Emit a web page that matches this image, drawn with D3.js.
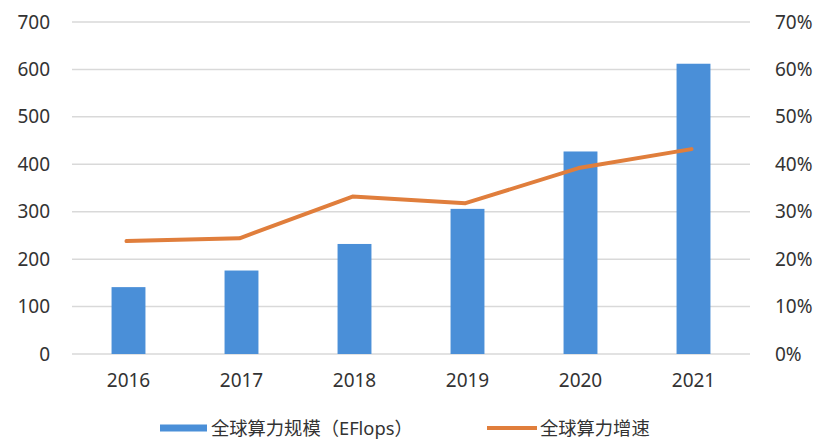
<!DOCTYPE html>
<html>
<head>
<meta charset="utf-8">
<script src="https://cdn.jsdelivr.net/npm/d3@7"></script>
<style>
  html, body { margin: 0; padding: 0; background: #fff; }
  svg { display: block; }
  text { font-family: "Noto Sans", "Noto Sans CJK SC", sans-serif; fill: #333; }
</style>
</head>
<body>
<script>
const years = ["2016", "2017", "2018", "2019", "2020", "2021"];
const scale = [141, 176, 232, 306, 427, 612];          // 全球算力规模 (EFlops)
const growth = [0.238, 0.244, 0.332, 0.318, 0.392, 0.432]; // 全球算力增速
const leftTicks = [0, 100, 200, 300, 400, 500, 600, 700];
const rightTicks = [0, 0.1, 0.2, 0.3, 0.4, 0.5, 0.6, 0.7];
const legendLabels = ["全球算力规模（EFlops）", "全球算力增速"];

const W = 819, H = 442;
const m = { left: 72, right: 69, top: 22, bottom: 88 };
const svg = d3.select("body").append("svg").attr("width", W).attr("height", H);

const x = d3.scaleBand().domain(years).range([m.left, W - m.right]).paddingInner(0.7).paddingOuter(0.35);
const y = d3.scaleLinear().domain([0, 700]).range([H - m.bottom, m.top]);
const y2 = d3.scaleLinear().domain([0, 0.7]).range([H - m.bottom, m.top]);

// gridlines
svg.append("g").selectAll("line").data(leftTicks).join("line")
  .attr("x1", m.left).attr("x2", W - m.right)
  .attr("y1", d => y(d)).attr("y2", d => y(d))
  .attr("stroke", "#d9d9d9").attr("stroke-width", 1.5);

// left axis
const la = svg.append("g").attr("transform", `translate(${m.left - 22},0)`)
  .call(d3.axisLeft(y).tickValues(leftTicks).tickSize(0).tickPadding(0));
la.select(".domain").remove();
la.selectAll("text").style("font-size", "19px").attr("fill", "#333");

// right axis
const ra = svg.append("g").attr("transform", `translate(${W - m.right + 25},0)`)
  .call(d3.axisRight(y2).tickValues(rightTicks).tickFormat(d3.format(".0%")).tickSize(0).tickPadding(0));
ra.select(".domain").remove();
ra.selectAll("text").style("font-size", "19px").attr("fill", "#333");

// bottom axis
const ba = svg.append("g").attr("transform", `translate(0,${H - m.bottom + 12})`)
  .call(d3.axisBottom(x).tickSize(0).tickPadding(8));
ba.select(".domain").remove();
ba.selectAll("text").style("font-size", "19px").attr("fill", "#333");

// bars
svg.append("g").selectAll("rect").data(years).join("rect")
  .attr("x", d => x(d)).attr("width", x.bandwidth())
  .attr("y", (d, i) => y(scale[i])).attr("height", (d, i) => y(0) - y(scale[i]))
  .attr("fill", "#4a8fd8");

// line
const line = d3.line().x((d, i) => x(years[i]) + x.bandwidth() / 2 - 2).y(d => y2(d));
svg.append("path").datum(growth).attr("d", line)
  .attr("fill", "none").attr("stroke", "#e07e3c").attr("stroke-width", 4)
  .attr("stroke-linejoin", "round").attr("stroke-linecap", "round");

// legend
const lg = svg.append("g");
const ly = 428;
lg.append("rect").attr("x", 160).attr("y", ly - 3.5).attr("width", 47).attr("height", 7).attr("fill", "#4a8fd8");
lg.append("text").attr("x", 211).attr("y", ly).attr("dy", "0.36em").style("font-size", "18.3px").text(legendLabels[0]);
lg.append("line").attr("x1", 487).attr("x2", 537).attr("y1", ly).attr("y2", ly)
  .attr("stroke", "#e07e3c").attr("stroke-width", 4);
lg.append("text").attr("x", 540).attr("y", ly).attr("dy", "0.36em").style("font-size", "18.3px").text(legendLabels[1]);
</script>
</body>
</html>
